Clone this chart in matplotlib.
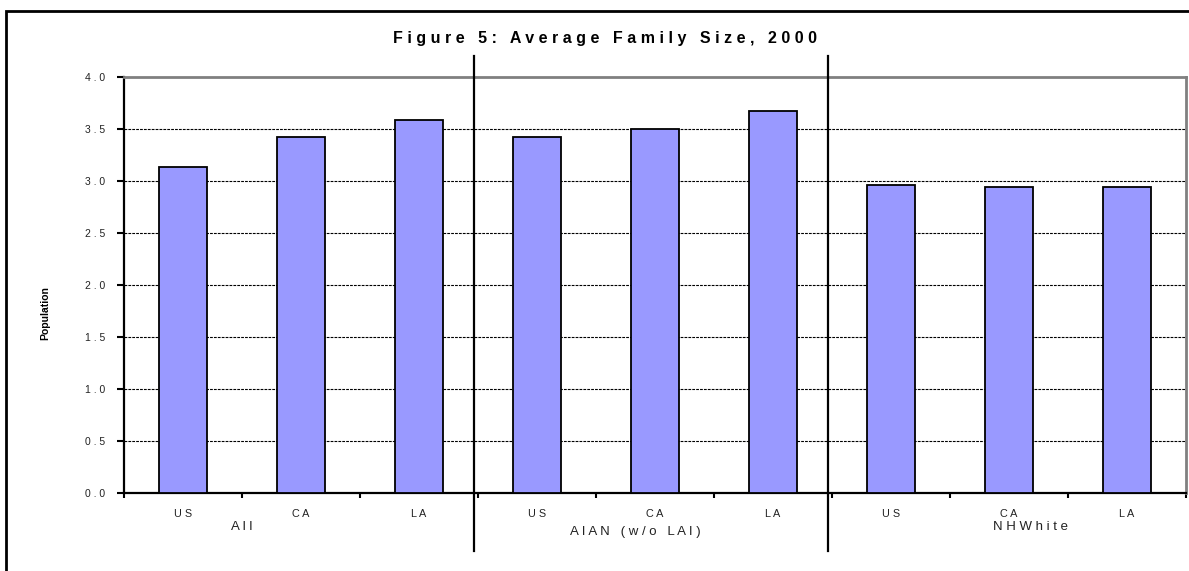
import matplotlib
matplotlib.use("Agg")
import matplotlib.pyplot as plt
import matplotlib.patches as patches
from matplotlib.transforms import blended_transform_factory
import numpy as np

plt.rcParams['font.family'] = ['Liberation Sans', 'DejaVu Sans']

# Data
groups = ["All", "AIAN (w/o LAI)", "NHWhite"]
places = ["US", "CA", "LA"]
all_values = [3.13, 3.42, 3.59]
aian_values = [3.42, 3.50, 3.67]
nhwhite_values = [2.96, 2.94, 2.94]
y_ticks = [0.0, 0.5, 1.0, 1.5, 2.0, 2.5, 3.0, 3.5, 4.0]
title = "Figure 5: Average Family Size, 2000"


def spaced(s):
    # the original chart uses wide letter spacing
    return " ".join(s)


values = all_values + aian_values + nhwhite_values
labels = places * len(groups)
x = np.arange(len(values))

fig = plt.figure(figsize=(11.89, 5.71), dpi=100)
ax = fig.add_axes([124 / 1189, 1 - 493 / 571, 1062 / 1189, 416 / 571])

# gridlines (not at the top, the top is the grey frame)
for y in y_ticks[1:-1]:
    ax.axhline(y, color="black", lw=0.8, ls=(0, (2.5, 1)), zorder=1)

ax.bar(x, values, width=0.41, color="#9999FF", edgecolor="black", lw=1.3, zorder=3)

ax.set_xlim(-0.5, len(values) - 0.5)
ax.set_ylim(0, 4.0)

ax.set_yticks(y_ticks)
ax.set_yticklabels([spaced("%.1f" % v) for v in y_ticks], fontsize=7.5, color="#222222")
ax.tick_params(axis="y", direction="out", length=5, width=1.5, pad=8.5)

ax.set_xticks(x)
ax.set_xticklabels([spaced(l) for l in labels], fontsize=7.8, color="#222222")
ax.set_xticks(np.arange(len(values) + 1) - 0.5, minor=True)
ax.tick_params(axis="x", which="major", length=0, pad=11.5)
ax.tick_params(axis="x", which="minor", direction="out", length=3.5, width=1.5)

for side in ["left", "bottom"]:
    ax.spines[side].set_linewidth(1.6)
    ax.spines[side].set_color("black")
for side in ["top", "right"]:
    ax.spines[side].set_linewidth(2.0)
    ax.spines[side].set_color("#808080")

# group labels and separators below the axis
trans = blended_transform_factory(ax.transData, fig.transFigure)
group_pos = [0.5, 3.83, 7.18]
group_y = [1 - 527 / 571, 1 - 532 / 571, 1 - 527 / 571]
for g, gx, gy in zip(groups, group_pos, group_y):
    ax.text(gx, gy, spaced(g), transform=trans, ha="center", va="center",
            fontsize=9.5, color="#222222", clip_on=False)
for sx in [2.466, 5.466]:
    ax.plot([sx, sx], [1 - 56 / 571, 1 - 551 / 571], color="black", lw=1.6,
            transform=trans, clip_on=False, zorder=5)

fig.text(45 / 1189, 1 - 313 / 571, "Population", rotation=90, ha="center", va="center",
         fontsize=7.5, fontweight="bold")
fig.text(605 / 1189, 1 - 38 / 571, spaced(title), ha="center", va="center",
         fontsize=11.5, fontweight="bold")

# outer chart frame (cut off at the right and bottom in the original)
fig.patches.append(patches.Rectangle((6 / 1189, -0.1), 1.2, 1.1 - 11 / 571, fill=False,
                                     edgecolor="black", lw=2.0, transform=fig.transFigure))

fig.savefig("out.png", dpi=100)
